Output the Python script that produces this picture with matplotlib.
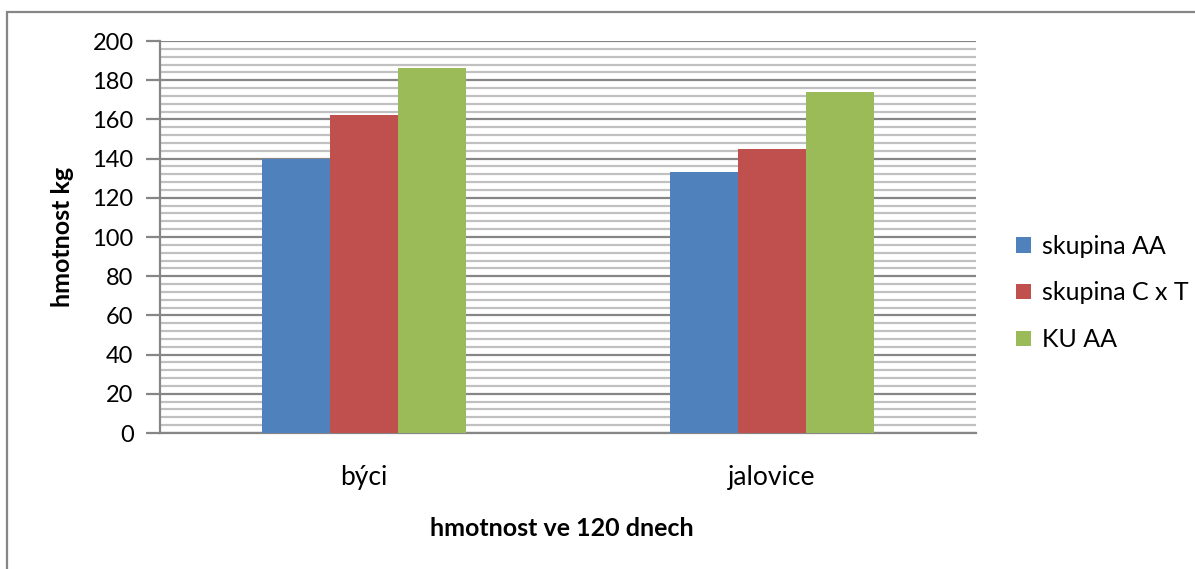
import matplotlib
matplotlib.use("Agg")
import matplotlib.pyplot as plt
import numpy as np
from matplotlib.patches import Rectangle

categories = ["býci", "jalovice"]
series_names = ["skupina AA", "skupina C x T", "KU AA"]
skupina_AA = [140, 133]
skupina_CxT = [162, 145]
KU_AA = [186, 174]
colors = ["#4F81BD", "#C0504D", "#9BBB59"]

plt.rcParams['font.family'] = ['Lato', 'DejaVu Sans']

fig = plt.figure(figsize=(11.95, 5.69), dpi=100)
W, H = 1195, 569
ax = fig.add_axes([160 / W, 1 - 433 / H, (976 - 160) / W, (433 - 41) / H])

x = np.arange(len(categories))
w = 1 / 6
for i, (vals, name) in enumerate(zip([skupina_AA, skupina_CxT, KU_AA], series_names)):
    ax.bar(x + (i - 1) * w, vals, width=w, color=colors[i], label=name, zorder=3)

ax.set_xlim(-0.5, 1.5)
ax.set_ylim(0, 200)
ax.set_yticks(np.arange(0, 201, 20))
ax.set_yticks(np.arange(0, 201, 4), minor=True)
ax.yaxis.grid(True, which='minor', color='#C0C0C0', linewidth=1.6, zorder=0)
ax.yaxis.grid(True, which='major', color='#868686', linewidth=1.6, zorder=1)
ax.set_axisbelow(True)
for s in ['top', 'right']:
    ax.spines[s].set_visible(False)
ax.spines['left'].set_color('#868686')
ax.spines['left'].set_linewidth(1.6)
ax.spines['bottom'].set_color('#868686')
ax.spines['bottom'].set_linewidth(1.6)
ax.tick_params(axis='y', which='major', length=10, width=1.6, color='#868686', labelsize=17, pad=9)
ax.tick_params(axis='y', which='minor', length=0)
ax.tick_params(axis='x', length=0, labelsize=19, pad=23)
ax.set_xticks(x)
ax.set_xticklabels(categories)

fig.text(62 / W, 1 - 237 / H, "hmotnost kg", rotation=90, ha='center', va='center',
         fontsize=18, fontweight='bold')
fig.text(562 / W, 1 - 528 / H, "hmotnost ve 120 dnech", ha='center', va='center',
         fontsize=18, fontweight='bold')

leg = fig.legend(loc='center left', bbox_to_anchor=(1016 / W, 1 - 293 / H), frameon=False,
                 fontsize=18, handlelength=0.58, handleheight=0.58, labelspacing=0.95,
                 handletextpad=0.45, borderpad=0, borderaxespad=0)

fig.patches.append(Rectangle((7 / W, -0.1), 1.2, 1 - 12 / H + 0.1, transform=fig.transFigure,
                             fill=False, edgecolor='#868686', linewidth=1.6))

fig.savefig("out.png", dpi=100)
